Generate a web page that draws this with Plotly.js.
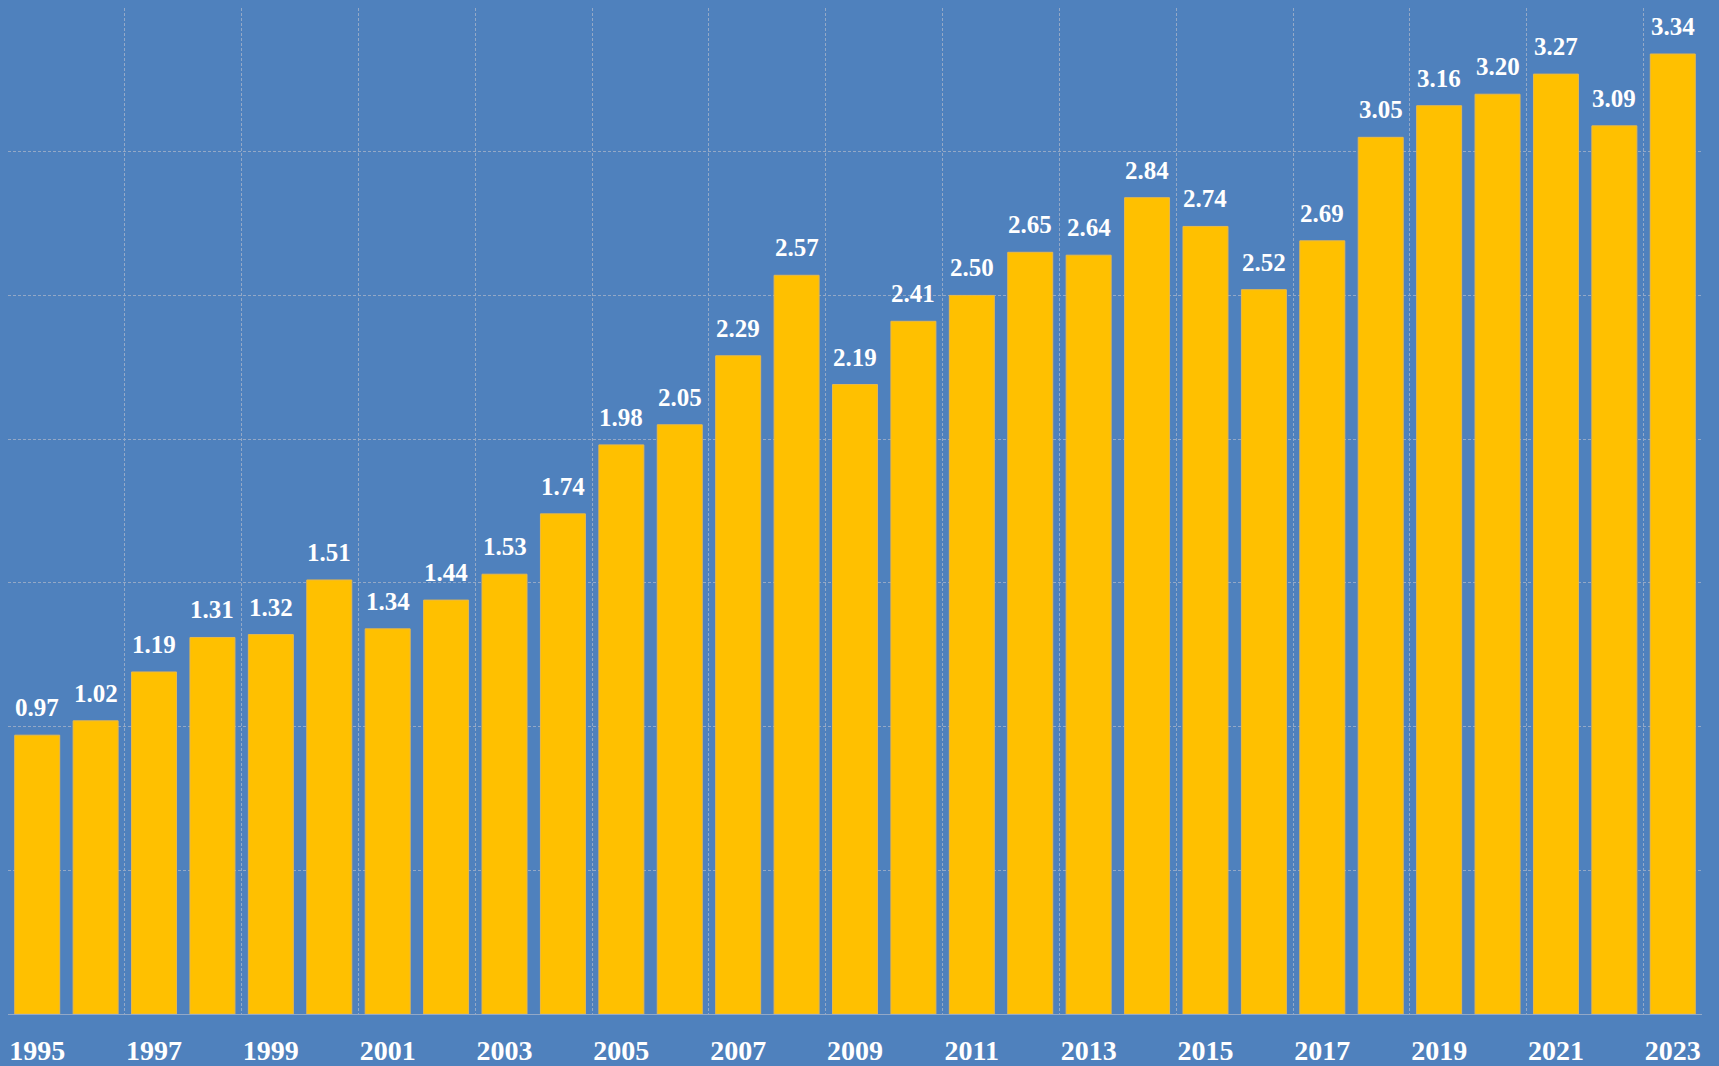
<!DOCTYPE html>
<html>
<head>
<meta charset="utf-8">
<script src="https://cdn.plot.ly/plotly-3.0.1.min.js"></script>
<style>html,body{margin:0;padding:0;background:#4F81BD;}#chart{width:1719px;height:1066px;}</style>
</head>
<body>
<div id="chart"></div>
<script>
const years = [1995,1996,1997,1998,1999,2000,2001,2002,2003,2004,2005,2006,2007,2008,2009,2010,2011,2012,2013,2014,2015,2016,2017,2018,2019,2020,2021,2022,2023];
const values = [0.97,1.02,1.19,1.31,1.32,1.51,1.34,1.44,1.53,1.74,1.98,2.05,2.29,2.57,2.19,2.41,2.50,2.65,2.64,2.84,2.74,2.52,2.69,3.05,3.16,3.20,3.27,3.09,3.34];
const tickYears = years.filter(y => (y - 1995) % 2 === 0);
const gridPositions = [];
for (let i = 0; i < years.length; i += 2) gridPositions.push(years[i] - 0.5);

const gridColor = '#93a8c6';
const serif = 'Liberation Serif, Times New Roman, serif';

const trace = {
  type: 'bar',
  x: years,
  y: values,
  width: 0.77,
  marker: {color: '#FFC000', line: {color: '#e8b84a', width: 1}},
  hoverinfo: 'x+y'
};

const annotations = years.map((yr, i) => ({
  x: yr, y: values[i], xref: 'x', yref: 'y',
  text: values[i].toFixed(2),
  showarrow: false, yanchor: 'bottom', xanchor: 'center', yshift: 12,
  font: {family: serif, size: 25, color: '#ffffff', weight: 'bold'}
}));

const layout = {
  width: 1719, height: 1066,
  margin: {l: 8, r: 17, t: 8, b: 52},
  paper_bgcolor: '#4F81BD',
  plot_bgcolor: '#4F81BD',
  showlegend: false,
  xaxis: {
    range: [1994.5, 2023.5],
    tickvals: tickYears,
    ticktext: tickYears.map(String),
    showgrid: false,
    zeroline: false,
    ticks: '',
    showline: true, linecolor: gridColor, linewidth: 1,
    tickfont: {family: serif, size: 28, color: '#ffffff', weight: 'bold'},
    ticklabelstandoff: 11,
    fixedrange: true
  },
  xaxis2: {
    overlaying: 'x',
    matches: 'x',
    range: [1994.5, 2023.5],
    tickvals: gridPositions,
    showticklabels: false,
    showgrid: true, gridcolor: gridColor, griddash: '3px,2px', gridwidth: 1,
    zeroline: false, ticks: ''
  },
  yaxis: {
    range: [0, 3.5],
    dtick: 0.5,
    showticklabels: false,
    showgrid: true, gridcolor: gridColor, griddash: '3px,2px', gridwidth: 1,
    zeroline: false, ticks: '',
    fixedrange: true
  },
  annotations: annotations
};

const gridTrace = {type: 'scatter', x: [1994.5], y: [0], xaxis: 'x2', yaxis: 'y', mode: 'markers', marker: {opacity: 0}, hoverinfo: 'skip'};

Plotly.newPlot('chart', [gridTrace, trace], layout, {displayModeBar: false, staticPlot: true});
</script>
</body>
</html>
